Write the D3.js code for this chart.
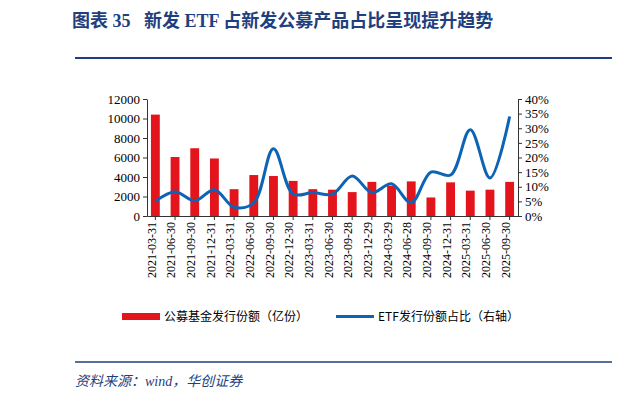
<!DOCTYPE html>
<html><head><meta charset="utf-8">
<script src="https://cdn.jsdelivr.net/npm/d3@7"></script>
<style>body{margin:0;background:#fff}</style>
</head><body><div id="chart"></div>
<script>
var categories = ["2021-03-31","2021-06-30","2021-09-30","2021-12-31","2022-03-31","2022-06-30","2022-09-30","2022-12-30","2023-03-31","2023-06-30","2023-09-28","2023-12-29","2024-03-29","2024-06-28","2024-09-30","2024-12-31","2025-03-31","2025-06-30","2025-09-30"];
var fundIssue = [10400,6050,6950,5900,2750,4200,4100,3600,2750,2700,2450,3500,3100,3550,1900,3450,2600,2700,3500];
var etfShare = [5,8.3,5.2,9,3,4.5,23,7.5,8,7.5,13.7,8,11,4.5,15,14,29.5,13,34];
var leftTicks = [0,2000,4000,6000,8000,10000,12000];
var rightTicks = [0,5,10,15,20,25,30,35,40];

var svg = d3.select("#chart").append("svg").attr("width",620).attr("height",402);
var serif = "'Liberation Serif','Noto Sans CJK SC',serif";
var navy = "#1F3F7F";

svg.append("text").attr("x",72).attr("y",27).style("font-family",serif)
  .style("font-size","18px").style("font-weight","bold").style("white-space","pre").attr("fill",navy)
  .text("图表 35   新发 ETF 占新发公募产品占比呈现提升趋势");
svg.append("line").attr("x1",75).attr("x2",612).attr("y1",58).attr("y2",58)
  .attr("stroke",navy).attr("stroke-width",2);
svg.append("line").attr("x1",75).attr("x2",612).attr("y1",362).attr("y2",362)
  .attr("stroke",navy).attr("stroke-width",1.5);
svg.append("text").attr("x",75).attr("y",386).style("font-family",serif)
  .style("font-size","14px").style("font-style","italic").attr("fill",navy)
  .text("资料来源：wind，华创证券");

var x = d3.scaleBand().domain(categories).range([147,518]).paddingInner(0.55).paddingOuter(0.2);
var yL = d3.scaleLinear().domain([0,12000]).range([216,99]);
var yR = d3.scaleLinear().domain([0,40]).range([216,99]);

var g = svg.append("g");
g.append("g").attr("transform","translate(147,0)")
  .call(d3.axisLeft(yL).tickValues(leftTicks).tickFormat(d3.format("d")).tickSize(4).tickSizeOuter(0));
g.append("g").attr("transform","translate(518,0)")
  .call(d3.axisRight(yR).tickValues(rightTicks).tickFormat(d=>d+"%").tickSize(4).tickSizeOuter(0));
var xa = g.append("g").attr("transform","translate(0,216)")
  .call(d3.axisBottom(x).tickSize(4).tickSizeOuter(0));
xa.selectAll("text").attr("transform","rotate(-90)").attr("text-anchor","end")
  .attr("x",-6).attr("y",-4).attr("dy","0.35em");
g.selectAll("text").style("font-family",serif).style("font-size","13px").attr("fill","#000");
xa.selectAll("text").style("font-size","12px");
g.selectAll(".tick line").attr("stroke","#333");
g.selectAll(".domain").attr("stroke","#333");

svg.selectAll(".bar").data(fundIssue).enter().append("rect")
  .attr("x",(d,i)=>x(categories[i])).attr("width",x.bandwidth())
  .attr("y",d=>yL(d)).attr("height",d=>216-yL(d)).attr("fill","#E3141C");

var line = d3.line().x((d,i)=>x(categories[i])+x.bandwidth()/2).y(d=>yR(d))
  .curve(d3.curveCatmullRom.alpha(0.5));
svg.append("path").datum(etfShare).attr("d",line).attr("fill","none")
  .attr("stroke","#0E64B4").attr("stroke-width",3);

var lg = svg.append("g").style("font-family","'Noto Sans CJK SC',sans-serif").style("font-size","12px");
lg.append("rect").attr("x",122).attr("y",313).attr("width",38).attr("height",7).attr("fill","#E3141C");
lg.append("text").attr("x",164).attr("y",321).text("公募基金发行份额（亿份）");
lg.append("line").attr("x1",336).attr("x2",374).attr("y1",316.5).attr("y2",316.5).attr("stroke","#0E64B4").attr("stroke-width",3);
lg.append("text").attr("x",378).attr("y",321).text("ETF发行份额占比（右轴）");
</script></body></html>
